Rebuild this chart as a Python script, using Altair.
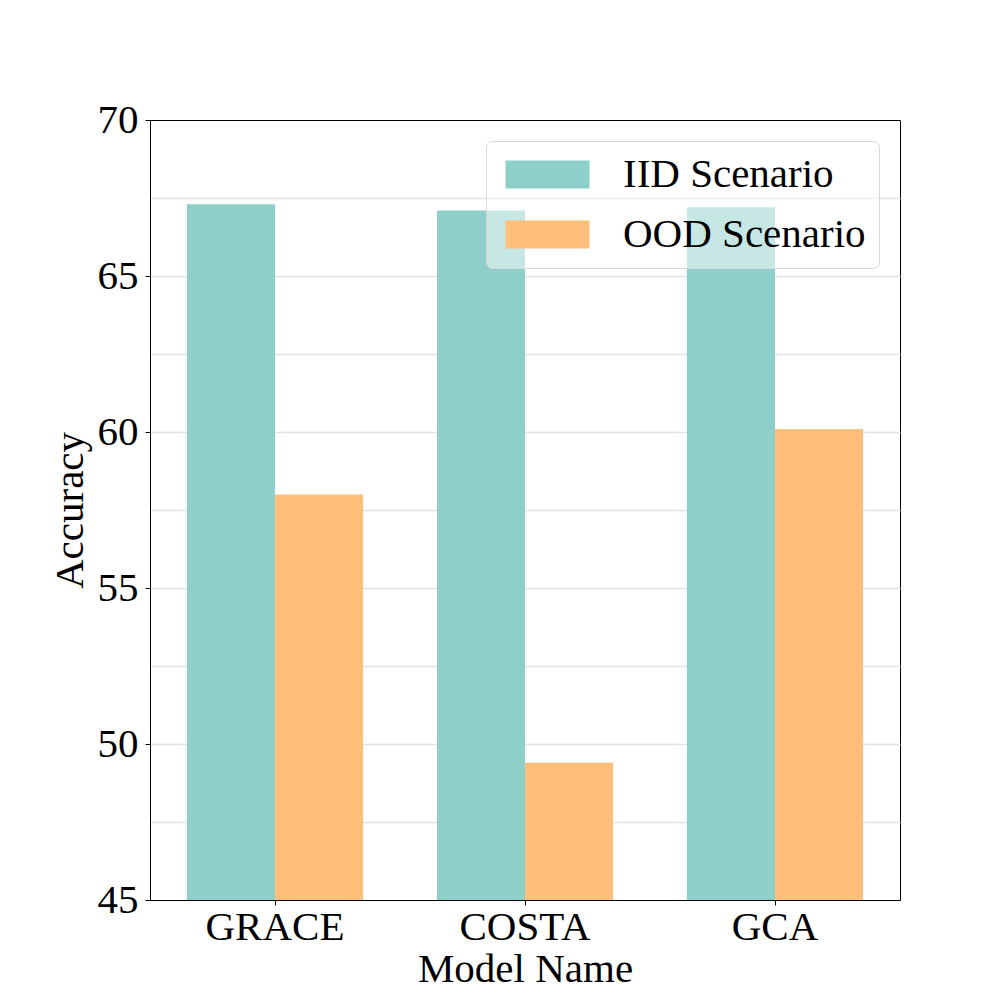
import altair as alt
import pandas as pd

models = ["GRACE", "COSTA", "GCA"]
scenarios = ["IID Scenario", "OOD Scenario"]
iid_acc = [67.3, 67.1, 67.2]
ood_acc = [58.0, 49.4, 60.1]
colors = ["#8ECFC9", "#FFBE7A"]
grid_values = [45, 47.5, 50, 52.5, 55, 57.5, 60, 62.5, 65, 67.5, 70]

rows = []
for m, a, b in zip(models, iid_acc, ood_acc):
    rows.append({"Model Name": m, "Scenario": scenarios[0], "Accuracy": a})
    rows.append({"Model Name": m, "Scenario": scenarios[1], "Accuracy": b})
df = pd.DataFrame(rows)

FONT = "Liberation Serif"
FS = 41

chart = alt.Chart(df).mark_bar(clip=True).encode(
    x=alt.X(
        "Model Name:N",
        sort=models,
        scale=alt.Scale(paddingInner=0, paddingOuter=0),
        axis=alt.Axis(
            labelAngle=0, labelPadding=2, titlePadding=2, tickSize=5,
            grid=False, labelFont=FONT, titleFont=FONT,
        ),
    ),
    xOffset=alt.XOffset(
        "Scenario:N", sort=scenarios,
        scale=alt.Scale(paddingInner=0, paddingOuter=0.42),
    ),
    y=alt.Y(
        "Accuracy:Q",
        scale=alt.Scale(domain=[45, 70], nice=False, zero=False),
        axis=alt.Axis(
            values=grid_values,
            labelExpr="datum.value % 5 === 0 ? datum.label : ''",
            tickOpacity={"condition": {"test": "datum.value % 5 !== 0", "value": 0}, "value": 1},
            gridOpacity={"condition": {"test": "datum.value >= 70 || datum.value <= 45", "value": 0}, "value": 1},
            tickSize=5, labelPadding=7, titlePadding=6,
            grid=True, gridColor="#e2e2e2", gridWidth=1.6,
            labelFont=FONT, titleFont=FONT,
        ),
    ),
    color=alt.Color(
        "Scenario:N",
        scale=alt.Scale(domain=scenarios, range=colors),
        legend=alt.Legend(
            title=None, orient="top-right", offset=21,
            symbolType="M-1,-1L5,-1L5,1L-1,1Z",
            symbolSize=784, symbolStrokeWidth=0, symbolOpacity=1,
            labelFont=FONT, labelFontSize=FS, labelColor="black",
            labelOffset=83, labelLimit=0, rowPadding=18, padding=13,
            fillColor="rgba(255,255,255,0.5)", strokeColor="#d8d8d8",
            cornerRadius=6,
        ),
    ),
).properties(
    width=750, height=780,
    autosize=alt.AutoSizeParams(type="none"),
    padding={"left": 142, "top": 112, "right": 92, "bottom": 92},
).configure_axis(
    labelFont=FONT, titleFont=FONT, labelFontSize=FS, titleFontSize=FS,
    labelColor="black", titleColor="black", titleFontWeight="normal",
    tickColor="black", domainColor="black", domainWidth=1, tickWidth=1,
).configure_view(
    stroke="black", strokeWidth=1,
)

chart.save("out.html", embed_options={"renderer": "svg", "actions": False})
